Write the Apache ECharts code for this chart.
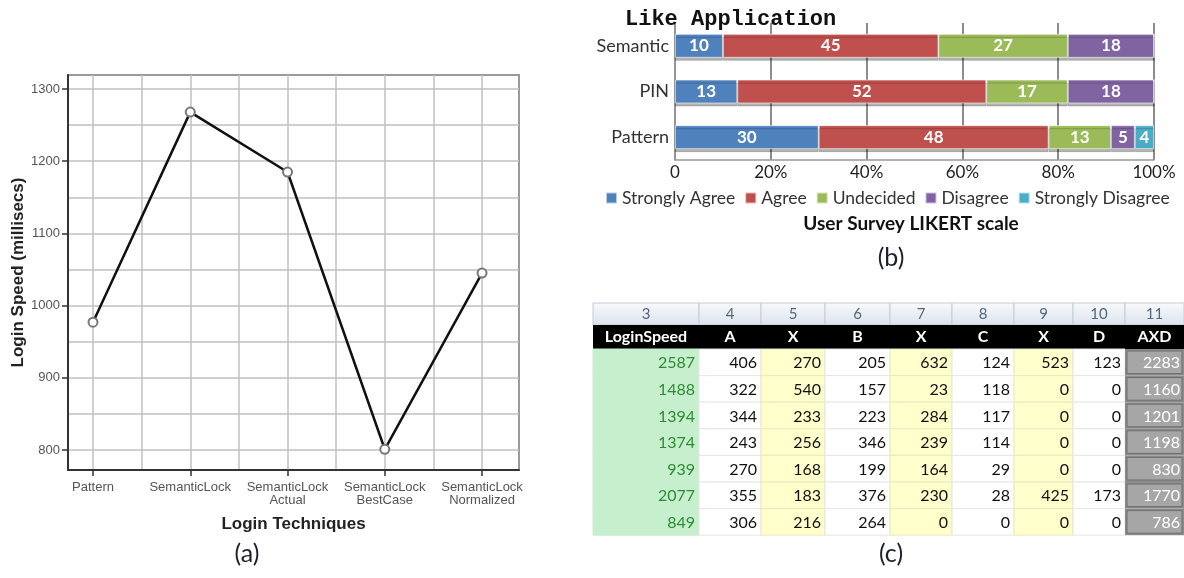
<!DOCTYPE html>
<html>
<head>
<meta charset="utf-8">
<script src="https://cdn.jsdelivr.net/npm/echarts@6/dist/echarts.min.js"></script>
<style>
  html, body { margin: 0; padding: 0; background: #fff; }
  #main { width: 1184px; height: 578px; }
</style>
</head>
<body>
<div id="main"></div>
<script>
// (a) login speed per technique
const TECHNIQUES = ['Pattern', 'SemanticLock', 'SemanticLock\nActual', 'SemanticLock\nBestCase', 'SemanticLock\nNormalized'];
const LOGIN_SPEED_MS = [977, 1268, 1185, 801, 1045];
const SPEED_TICKS = [800, 900, 1000, 1100, 1200, 1300];
const SPEED_GRID = [800, 850, 900, 950, 1000, 1050, 1100, 1150, 1200, 1250, 1300];
const TECH_TICKS = [0, 1, 2, 3, 4];
const TECH_GRID = [0, 0.5, 1, 1.5, 2, 2.5, 3, 3.5, 4];

// (b) likert survey
const METHODS = ['Semantic', 'PIN', 'Pattern'];
const LIKERT_LEVELS = ['Strongly Agree', 'Agree', 'Undecided', 'Disagree', 'Strongly Disagree'];
const stronglyAgree = [10, 13, 30];
const agree = [45, 52, 48];
const undecided = [27, 17, 13];
const disagree = [18, 18, 5];
const stronglyDisagree = [0, 0, 4];

// (c) spreadsheet
const COL_NUMBERS = ['3', '4', '5', '6', '7', '8', '9', '10', '11'];
const COL_HEADERS = ['LoginSpeed', 'A', 'X', 'B', 'X', 'C', 'X', 'D', 'AXD'];
const loginSpeed = [2587, 1488, 1394, 1374, 939, 2077, 849];
const colA = [406, 322, 344, 243, 270, 355, 306];
const colX1 = [270, 540, 233, 256, 168, 183, 216];
const colB = [205, 157, 223, 346, 199, 376, 264];
const colX2 = [632, 23, 284, 239, 164, 230, 0];
const colC = [124, 118, 117, 114, 29, 28, 0];
const colX3 = [523, 0, 0, 0, 0, 425, 0];
const colD = [123, 0, 0, 0, 0, 173, 0];
const colAXD = [2283, 1160, 1201, 1198, 830, 1770, 786];

// layout of the spreadsheet (column widths / row heights)
const TABLE_COL_W = [106, 62, 64, 65, 62, 62, 59, 52, 59];
const TABLE_ROW_H = [22, 24, 26.6, 26.6, 26.6, 26.6, 26.6, 26.6, 26.6];
const colStart = [];
TABLE_COL_W.reduce((acc, w, i) => { colStart[i] = acc; return acc + w; }, 0);
const rowStart = [];
TABLE_ROW_H.reduce((acc, h, i) => { rowStart[i] = acc; return acc + h; }, 0);
const tableW = TABLE_COL_W.reduce((a, b) => a + b, 0);
const tableH = TABLE_ROW_H.reduce((a, b) => a + b, 0);

const tableColumns = [loginSpeed, colA, colX1, colB, colX2, colC, colX3, colD, colAXD];
const cells = [];
COL_NUMBERS.forEach((t, c) => cells.push({col: c, row: 0, text: t}));
COL_HEADERS.forEach((t, c) => cells.push({col: c, row: 1, text: t}));
tableColumns.forEach((arr, c) => {
  arr.forEach((v, r) => cells.push({col: c, row: r + 2, text: String(v)}));
});

const LIKERT_COLORS = ['#4f81bd', '#c0504d', '#9bbb59', '#8064a2', '#4bacc6'];
const likertData = [stronglyAgree, agree, undecided, disagree, stronglyDisagree];

const chart = echarts.init(document.getElementById('main'));

const renderCell = (params, api) => {
  const cell = cells[params.dataIndex];
  const c = cell.col, r = cell.row;
  const a = api.coord([colStart[c], rowStart[r]]);
  const b = api.coord([colStart[c] + TABLE_COL_W[c], rowStart[r] + TABLE_ROW_H[r]]);
  const x = a[0], y = a[1], w = b[0] - a[0], h = b[1] - a[1];
  const children = [];
  if (r === 0) {
    children.push({type: 'rect', shape: {x, y, width: w, height: h}, style: {
      fill: new echarts.graphic.LinearGradient(0, 0, 0, 1, [{offset: 0, color: '#f8fafd'}, {offset: 1, color: '#dce3ec'}]),
      stroke: '#c3ccd8', lineWidth: 1}});
    children.push({type: 'text', style: {text: cell.text, x: x + w / 2, y: y + h / 2, align: 'center', verticalAlign: 'middle',
      fill: '#566579', font: '15px Lato'}});
  } else if (r === 1) {
    children.push({type: 'rect', shape: {x, y, width: w, height: h}, style: {fill: '#000'}});
    children.push({type: 'text', style: {text: cell.text, x: x + w / 2, y: y + h / 2, align: 'center', verticalAlign: 'middle',
      fill: '#fff', font: 'bold 16px Lato'}});
  } else {
    let fill = '#fff', stroke = '#e6e6e6', color = '#111';
    if (c === 0) { fill = '#c6efce'; stroke = '#c6efce'; color = '#2f8a34'; }
    if (c === 2 || c === 4 || c === 6) { fill = '#ffffcc'; stroke = '#e8e8c4'; }
    if (c === 8) {
      children.push({type: 'rect', shape: {x, y, width: w, height: h}, style: {fill: '#8c8c8c'}});
      children.push({type: 'rect', shape: {x: x + 2, y: y + 2, width: w - 4, height: h - 4}, style: {fill: '#a6a6a6', stroke: '#6e6e6e', lineWidth: 1}});
      color = '#fff';
    } else {
      children.push({type: 'rect', shape: {x, y, width: w, height: h}, style: {fill, stroke, lineWidth: 1}});
    }
    children.push({type: 'text', style: {text: cell.text, x: x + w - 4, y: y + h / 2 + 1, align: 'right', verticalAlign: 'middle',
      fill: color, font: '16px Lato'}});
  }
  return {type: 'group', children};
};

const capStyle = {fontFamily: 'Lato', fontSize: 25, fontWeight: 'normal', color: '#1d1f2e'};

const option = {
  animation: false,
  backgroundColor: '#fff',
  title: [
    {text: '(a)', left: 242, top: 536, textAlign: 'center', textStyle: capStyle},
    {text: '(b)', left: 886, top: 240, textAlign: 'center', textStyle: capStyle},
    {text: '(c)', left: 886, top: 536, textAlign: 'center', textStyle: capStyle},
    {text: 'Like Application', left: 620, top: 3, textStyle: {fontFamily: 'Liberation Mono', fontWeight: 'bold', fontSize: 22, color: '#111'}},
    {text: 'User Survey LIKERT scale', left: 906, top: 209, textAlign: 'center', textStyle: {fontFamily: 'Lato', fontWeight: 'bold', fontSize: 19, color: '#111'}}
  ],
  legend: {
    data: LIKERT_LEVELS, left: 600, top: 184, icon: 'rect', itemWidth: 11, itemHeight: 11, itemGap: 9,
    textStyle: {fontFamily: 'Lato', fontSize: 17.5, color: '#333'}
  },
  grid: [
    {left: 68, top: 75, width: 451, height: 395, show: true, borderColor: '#9a9a9a', borderWidth: 2},
    {left: 675, top: 23, width: 479, height: 137},
    {left: 593, top: 303, width: tableW, height: tableH}
  ],
  xAxis: [
    {
      gridIndex: 0, type: 'value', min: -0.257, max: 4.38, position: 'bottom',
      axisLine: {show: true, onZero: false, lineStyle: {color: '#333', width: 2}},
      axisTick: {show: true, customValues: TECH_TICKS, length: 6, lineStyle: {color: '#333', width: 1.5}},
      axisLabel: {customValues: TECH_TICKS, formatter: v => TECHNIQUES[Math.round(v)], fontFamily: 'Liberation Sans',
        fontSize: 13, lineHeight: 13, color: '#555', margin: 11},
      splitLine: {show: false},
      name: 'Login Techniques', nameLocation: 'middle', nameGap: 46,
      nameTextStyle: {fontFamily: 'Liberation Sans', fontWeight: 'bold', fontSize: 17, color: '#222'}
    },
    {
      gridIndex: 0, type: 'value', min: -0.257, max: 4.38, position: 'top',
      axisLine: {show: false}, axisTick: {show: false, customValues: TECH_GRID}, axisLabel: {show: false},
      splitLine: {show: true, lineStyle: {color: '#c0c0c0', width: 1.5}}
    },
    {
      gridIndex: 1, type: 'value', min: 0, max: 100, interval: 20,
      axisLine: {show: true, lineStyle: {color: '#999', width: 1.5}},
      axisTick: {show: false},
      axisLabel: {formatter: v => v === 0 ? '0' : v + '%', fontFamily: 'Lato', fontSize: 17, color: '#222', margin: 4},
      splitLine: {show: true, lineStyle: {color: '#666', width: 1.5}}
    },
    {gridIndex: 2, type: 'value', min: 0, max: tableW, show: false}
  ],
  yAxis: [
    {
      gridIndex: 0, type: 'value', min: 772.3, max: 1319.4,
      axisLine: {show: true, onZero: false, lineStyle: {color: '#333', width: 2}},
      axisTick: {show: true, customValues: SPEED_TICKS, length: 6, lineStyle: {color: '#333', width: 1.5}},
      axisLabel: {customValues: SPEED_TICKS, formatter: v => String(v), fontFamily: 'Liberation Sans', fontSize: 13, color: '#555', margin: 8},
      splitLine: {show: false},
      name: 'Login Speed (millisecs)', nameLocation: 'middle', nameGap: 40,
      nameTextStyle: {fontFamily: 'Liberation Sans', fontWeight: 'bold', fontSize: 17, color: '#222'}
    },
    {
      gridIndex: 0, type: 'value', min: 772.3, max: 1319.4, position: 'right',
      axisLine: {show: false}, axisTick: {show: false, customValues: SPEED_GRID}, axisLabel: {show: false},
      splitLine: {show: true, lineStyle: {color: '#c0c0c0', width: 1.5}}
    },
    {
      gridIndex: 1, type: 'category', data: METHODS, inverse: true,
      axisLine: {show: true, lineStyle: {color: '#999', width: 1.5}},
      axisTick: {show: false},
      axisLabel: {fontFamily: 'Lato', fontSize: 18, color: '#333', margin: 6}
    },
    {gridIndex: 2, type: 'value', min: 0, max: tableH, inverse: true, show: false}
  ],
  series: [
    {
      name: 'Login Speed', type: 'line', xAxisIndex: 0, yAxisIndex: 0,
      data: LOGIN_SPEED_MS.map((v, i) => [i, v]),
      symbol: 'emptyCircle', symbolSize: 9,
      lineStyle: {color: '#111', width: 2.5},
      itemStyle: {color: '#777', borderWidth: 1.5},
      z: 5
    },
    ...LIKERT_LEVELS.map((name, k) => ({
      name, type: 'bar', xAxisIndex: 2, yAxisIndex: 2, stack: 'likert', barWidth: 24,
      data: likertData[k],
      itemStyle: {color: LIKERT_COLORS[k], borderColor: 'rgba(255,255,255,0.6)', borderWidth: 1,
        shadowColor: 'rgba(0,0,0,0.3)', shadowOffsetY: 3, shadowBlur: 0},
      label: {show: true, position: 'inside', color: '#fff', fontFamily: 'Lato', fontWeight: 'bold', fontSize: 17,
        formatter: p => p.value > 0 ? p.value : ''}
    })),
    {
      type: 'custom', xAxisIndex: 3, yAxisIndex: 3,
      data: cells.map(c => [colStart[c.col], rowStart[c.row]]),
      renderItem: renderCell,
      silent: true
    }
  ]
};

chart.setOption(option);
</script>
</body>
</html>
